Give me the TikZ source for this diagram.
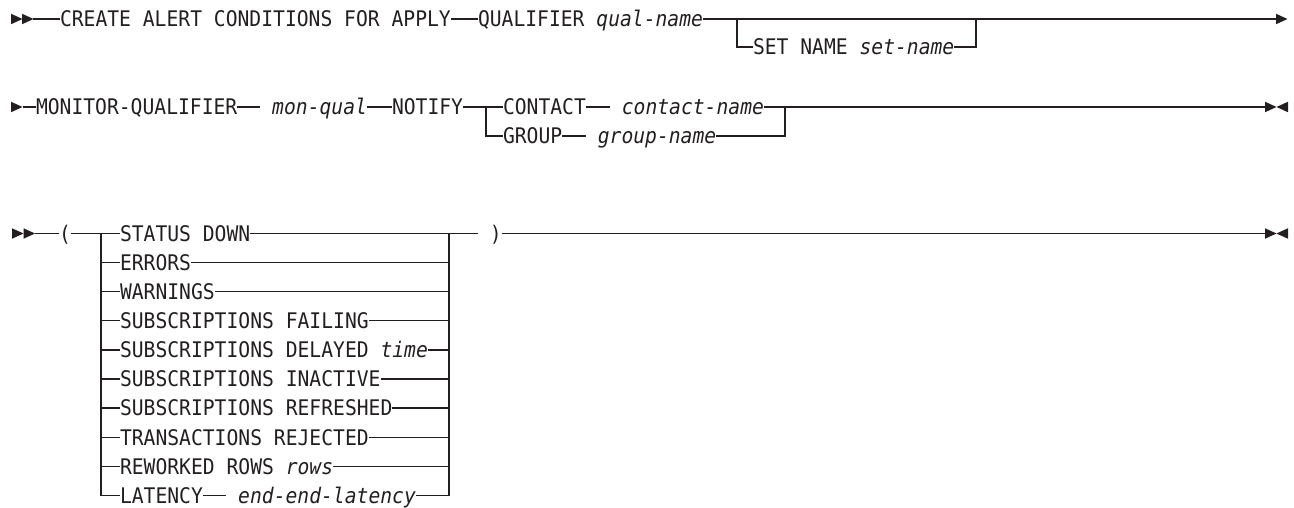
\documentclass[tikz,border=0pt]{standalone}
\usepackage{fontspec}
\newfontfamily\dmono[FakeStretch=0.915]{DejaVu Sans Mono}
\definecolor{ink}{HTML}{231F20}
\tikzset{
  txt/.style={anchor=base west, inner sep=0pt, outer sep=0pt, text=ink,
    font=\fontsize{21.5}{25}\selectfont\dmono},
  rtri/.pic={\fill[ink] (0,-5.25) -- (11.5,0) -- (0,5.25) -- cycle;},
  ltri/.pic={\fill[ink] (0,-5.25) -- (-11.5,0) -- (0,5.25) -- cycle;},
}
\def\off{7.85}
\begin{document}
\begin{tikzpicture}[x=1pt,y=-1pt,line width=1.3pt,draw=ink]
\useasboundingbox (0,0) rectangle (1294,508);
% row coordinates
\coordinate (r1) at (0,19);
\coordinate (r1b) at (0,47);
\coordinate (r2) at (0,107);
\coordinate (r2b) at (0,136);
\coordinate (c0) at (0,233.5);
\coordinate (c1) at (0,262.6);
\coordinate (c2) at (0,291.7);
\coordinate (c3) at (0,320.8);
\coordinate (c4) at (0,349.9);
\coordinate (c5) at (0,379.0);
\coordinate (c6) at (0,408.1);
\coordinate (c7) at (0,437.2);
\coordinate (c8) at (0,466.3);
\coordinate (c9) at (0,495.2);

% ---------- row 1 ----------
\pic at (11,19) {rtri};
\pic at (22,19) {rtri};
\coordinate (s1) at (33,19);
\node[txt] (create) at (60,19+\off) {CREATE ALERT CONDITIONS FOR APPLY};
\node[txt] (qual) at (478,19+\off) {QUALIFIER \textit{qual-name}};
\coordinate (e1) at (1276,19);
\pic at (e1) {rtri};
\draw (s1) -- (create.west|-r1);
\draw (create.east|-r1) -- (qual.west|-r1);
\draw (qual.east|-r1) -- (e1);
\coordinate (b1l) at (737,19);
\coordinate (b1r) at (976,19);
\node[txt] (setname) at (753,47+\off) {SET NAME \textit{set-name}};
\draw (b1l) |- (setname.west|-r1b);
\draw (setname.east|-r1b) -| (b1r);

% ---------- row 2 ----------
\pic at (11,107) {rtri};
\coordinate (s2) at (22.5,107);
\node[txt] (monq) at (36,107+\off) {MONITOR-QUALIFIER};
\node[txt] (monv) at (260.4,107+\off) {\ \textit{mon-qual}};
\node[txt] (notify) at (392,107+\off) {NOTIFY};
\coordinate (b2l) at (486,107);
\node[txt] (contact) at (503,107+\off) {CONTACT};
\node[txt] (contv) at (610,107+\off) {\ \textit{contact-name}};
\coordinate (b2r) at (785,107);
\node[txt] (group) at (503,136+\off) {GROUP};
\node[txt] (grpv) at (586,136+\off) {\ \textit{group-name}};
\coordinate (e2) at (1265,107);
\pic at (e2) {rtri};
\pic at (1288,107) {ltri};
\draw (s2) -- (monq.west|-r2);
\draw (monq.east|-r2) -- (monv.west|-r2);
\draw (monv.east|-r2) -- (notify.west|-r2);
\draw (notify.east|-r2) -- (contact.west|-r2);
\draw (contact.east|-r2) -- (contv.west|-r2);
\draw (contv.east|-r2) -- (b2r) -- (e2);
\draw (b2l) |- (group.west|-r2b);
\draw (group.east|-r2b) -- (grpv.west|-r2b);
\draw (grpv.east|-r2b) -| (b2r);

% ---------- row 3 ----------
\pic at (12,233.5) {rtri};
\pic at (23.5,233.5) {rtri};
\coordinate (s3) at (35,233.5);
\node[txt] (lp) at (59,233.5+\off) {(};
\coordinate (v3l) at (101,233.5);
\coordinate (v3r) at (449,233.5);
\node[txt] (o0) at (120,233.5+\off) {STATUS DOWN};
\node[txt] (o1) at (120,262.6+\off) {ERRORS};
\node[txt] (o2) at (120,291.7+\off) {WARNINGS};
\node[txt] (o3) at (120,320.8+\off) {SUBSCRIPTIONS FAILING};
\node[txt] (o4) at (120,349.9+\off) {SUBSCRIPTIONS DELAYED \textit{time}};
\node[txt] (o5) at (120,379.0+\off) {SUBSCRIPTIONS INACTIVE};
\node[txt] (o6) at (120,408.1+\off) {SUBSCRIPTIONS REFRESHED};
\node[txt] (o7) at (120,437.2+\off) {TRANSACTIONS REJECTED};
\node[txt] (o8) at (120,466.3+\off) {REWORKED ROWS \textit{rows}};
\node[txt] (o9) at (120,495.2+\off) {LATENCY};
\node[txt] (o9v) at (226.4,495.2+\off) {\ \textit{end-end-latency}};
\node[txt] (rp) at (478,233.5+\off) {\ )};
\coordinate (e3) at (1265,233.5);
\pic at (e3) {rtri};
\pic at (1288,233.5) {ltri};
\draw (s3) -- (lp.west|-c0);
\draw (lp.east|-c0) -- (o0.west|-c0);
\draw (o0.east|-c0) -- (rp.west|-c0);
\draw (rp.east|-c0) -- (e3);
\draw (v3l) |- (o9.west|-c9);
\draw (v3r) |- (o9v.east|-c9);
\draw (o9.east|-c9) -- (o9v.west|-c9);
\foreach \k in {1,...,8}{
  \draw (v3l|-c\k) -- (o\k.west|-c\k);
  \draw (o\k.east|-c\k) -- (v3r|-c\k);
}
\end{tikzpicture}
\end{document}
